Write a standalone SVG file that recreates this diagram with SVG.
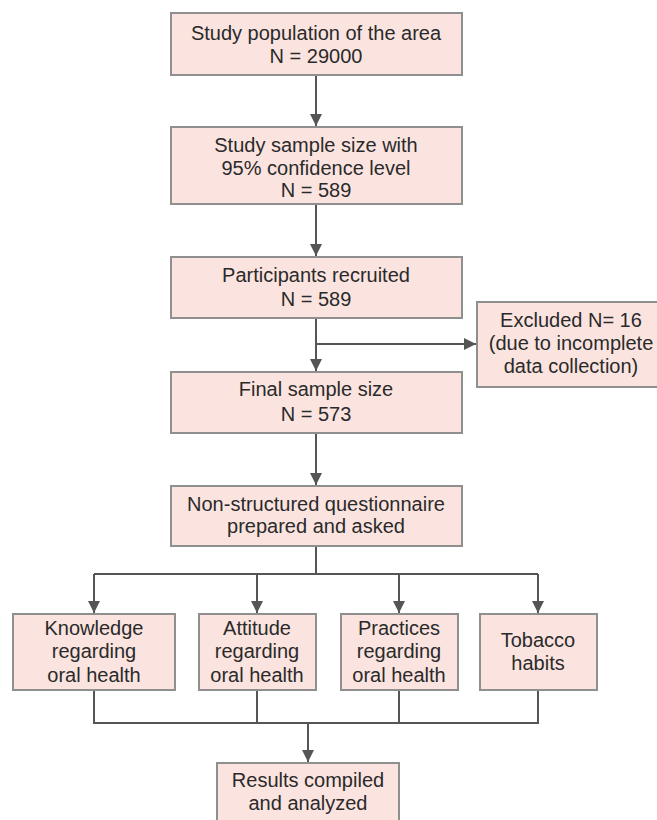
<svg xmlns="http://www.w3.org/2000/svg" width="657" height="820" viewBox="0 0 657 820">
<style>
.box{fill:#fbe4e0;stroke:#8f8f8f;stroke-width:2}
text{font-family:"Liberation Sans",Arial,sans-serif;font-size:20px;fill:#2a2a2a;text-anchor:middle}
.ln{fill:none;stroke:#555;stroke-width:2}
</style>
<defs>
<marker id="ah" markerWidth="12" markerHeight="12" refX="12" refY="6" orient="auto" markerUnits="userSpaceOnUse" viewBox="0 0 12 12">
<path d="M0,0 L12,6 L0,12 z" fill="#555"/>
</marker>
</defs>
<rect width="657" height="820" fill="#fff"/>
<g id="connectors">
<path class="ln" d="M316,75 V126" marker-end="url(#ah)"/>
<path class="ln" d="M316,204 V256" marker-end="url(#ah)"/>
<path class="ln" d="M316,318 V371" marker-end="url(#ah)"/>
<path class="ln" d="M316,344 H476" marker-end="url(#ah)"/>
<path class="ln" d="M316,433 V485" marker-end="url(#ah)"/>
<path class="ln" d="M316,546 V574"/>
<path class="ln" d="M94,574 H538"/>
<path class="ln" d="M94,574 V613" marker-end="url(#ah)"/>
<path class="ln" d="M257,574 V613" marker-end="url(#ah)"/>
<path class="ln" d="M399,574 V613" marker-end="url(#ah)"/>
<path class="ln" d="M538,574 V613" marker-end="url(#ah)"/>
<path class="ln" d="M94,690 V723 M257,690 V723 M399,690 V723 M538,690 V723 M93,723 H539"/>
<path class="ln" d="M308,723 V762" marker-end="url(#ah)"/>
</g>
<g id="n1"><rect class="box" x="171" y="13" width="291" height="62"/><text x="316" y="40">Study population of the area</text><text x="316" y="63">N = 29000</text></g>
<g id="n2"><rect class="box" x="171" y="127" width="291" height="77"/><text x="316" y="152">Study sample size with</text><text x="316" y="175">95% confidence level</text><text x="316" y="197">N = 589</text></g>
<g id="n3"><rect class="box" x="171" y="257" width="291" height="61"/><text x="316" y="282">Participants recruited</text><text x="316" y="306">N = 589</text></g>
<g id="n4"><rect class="box" x="477" y="302" width="190" height="85"/><text x="571" y="327">Excluded N= 16</text><text x="571" y="350">(due to incomplete</text><text x="571" y="373">data collection)</text></g>
<g id="n5"><rect class="box" x="171" y="372" width="291" height="61"/><text x="316" y="396">Final sample size</text><text x="316" y="421">N = 573</text></g>
<g id="n6"><rect class="box" x="171" y="486" width="291" height="60"/><text x="316" y="511">Non-structured questionnaire</text><text x="316" y="533">prepared and asked</text></g>
<g id="n7"><rect class="box" x="13" y="614" width="162" height="76"/><text x="94" y="635">Knowledge</text><text x="94" y="658">regarding</text><text x="94" y="682">oral health</text></g>
<g id="n8"><rect class="box" x="199" y="614" width="117" height="76"/><text x="257" y="635">Attitude</text><text x="257" y="658">regarding</text><text x="257" y="682">oral health</text></g>
<g id="n9"><rect class="box" x="341" y="614" width="117" height="76"/><text x="399" y="635">Practices</text><text x="399" y="658">regarding</text><text x="399" y="682">oral health</text></g>
<g id="n10"><rect class="box" x="480" y="614" width="117" height="76"/><text x="538" y="647">Tobacco</text><text x="538" y="670">habits</text></g>
<g id="n11"><rect class="box" x="217" y="763" width="182" height="70"/><text x="308" y="787">Results compiled</text><text x="308" y="810">and analyzed</text></g>
</svg>
